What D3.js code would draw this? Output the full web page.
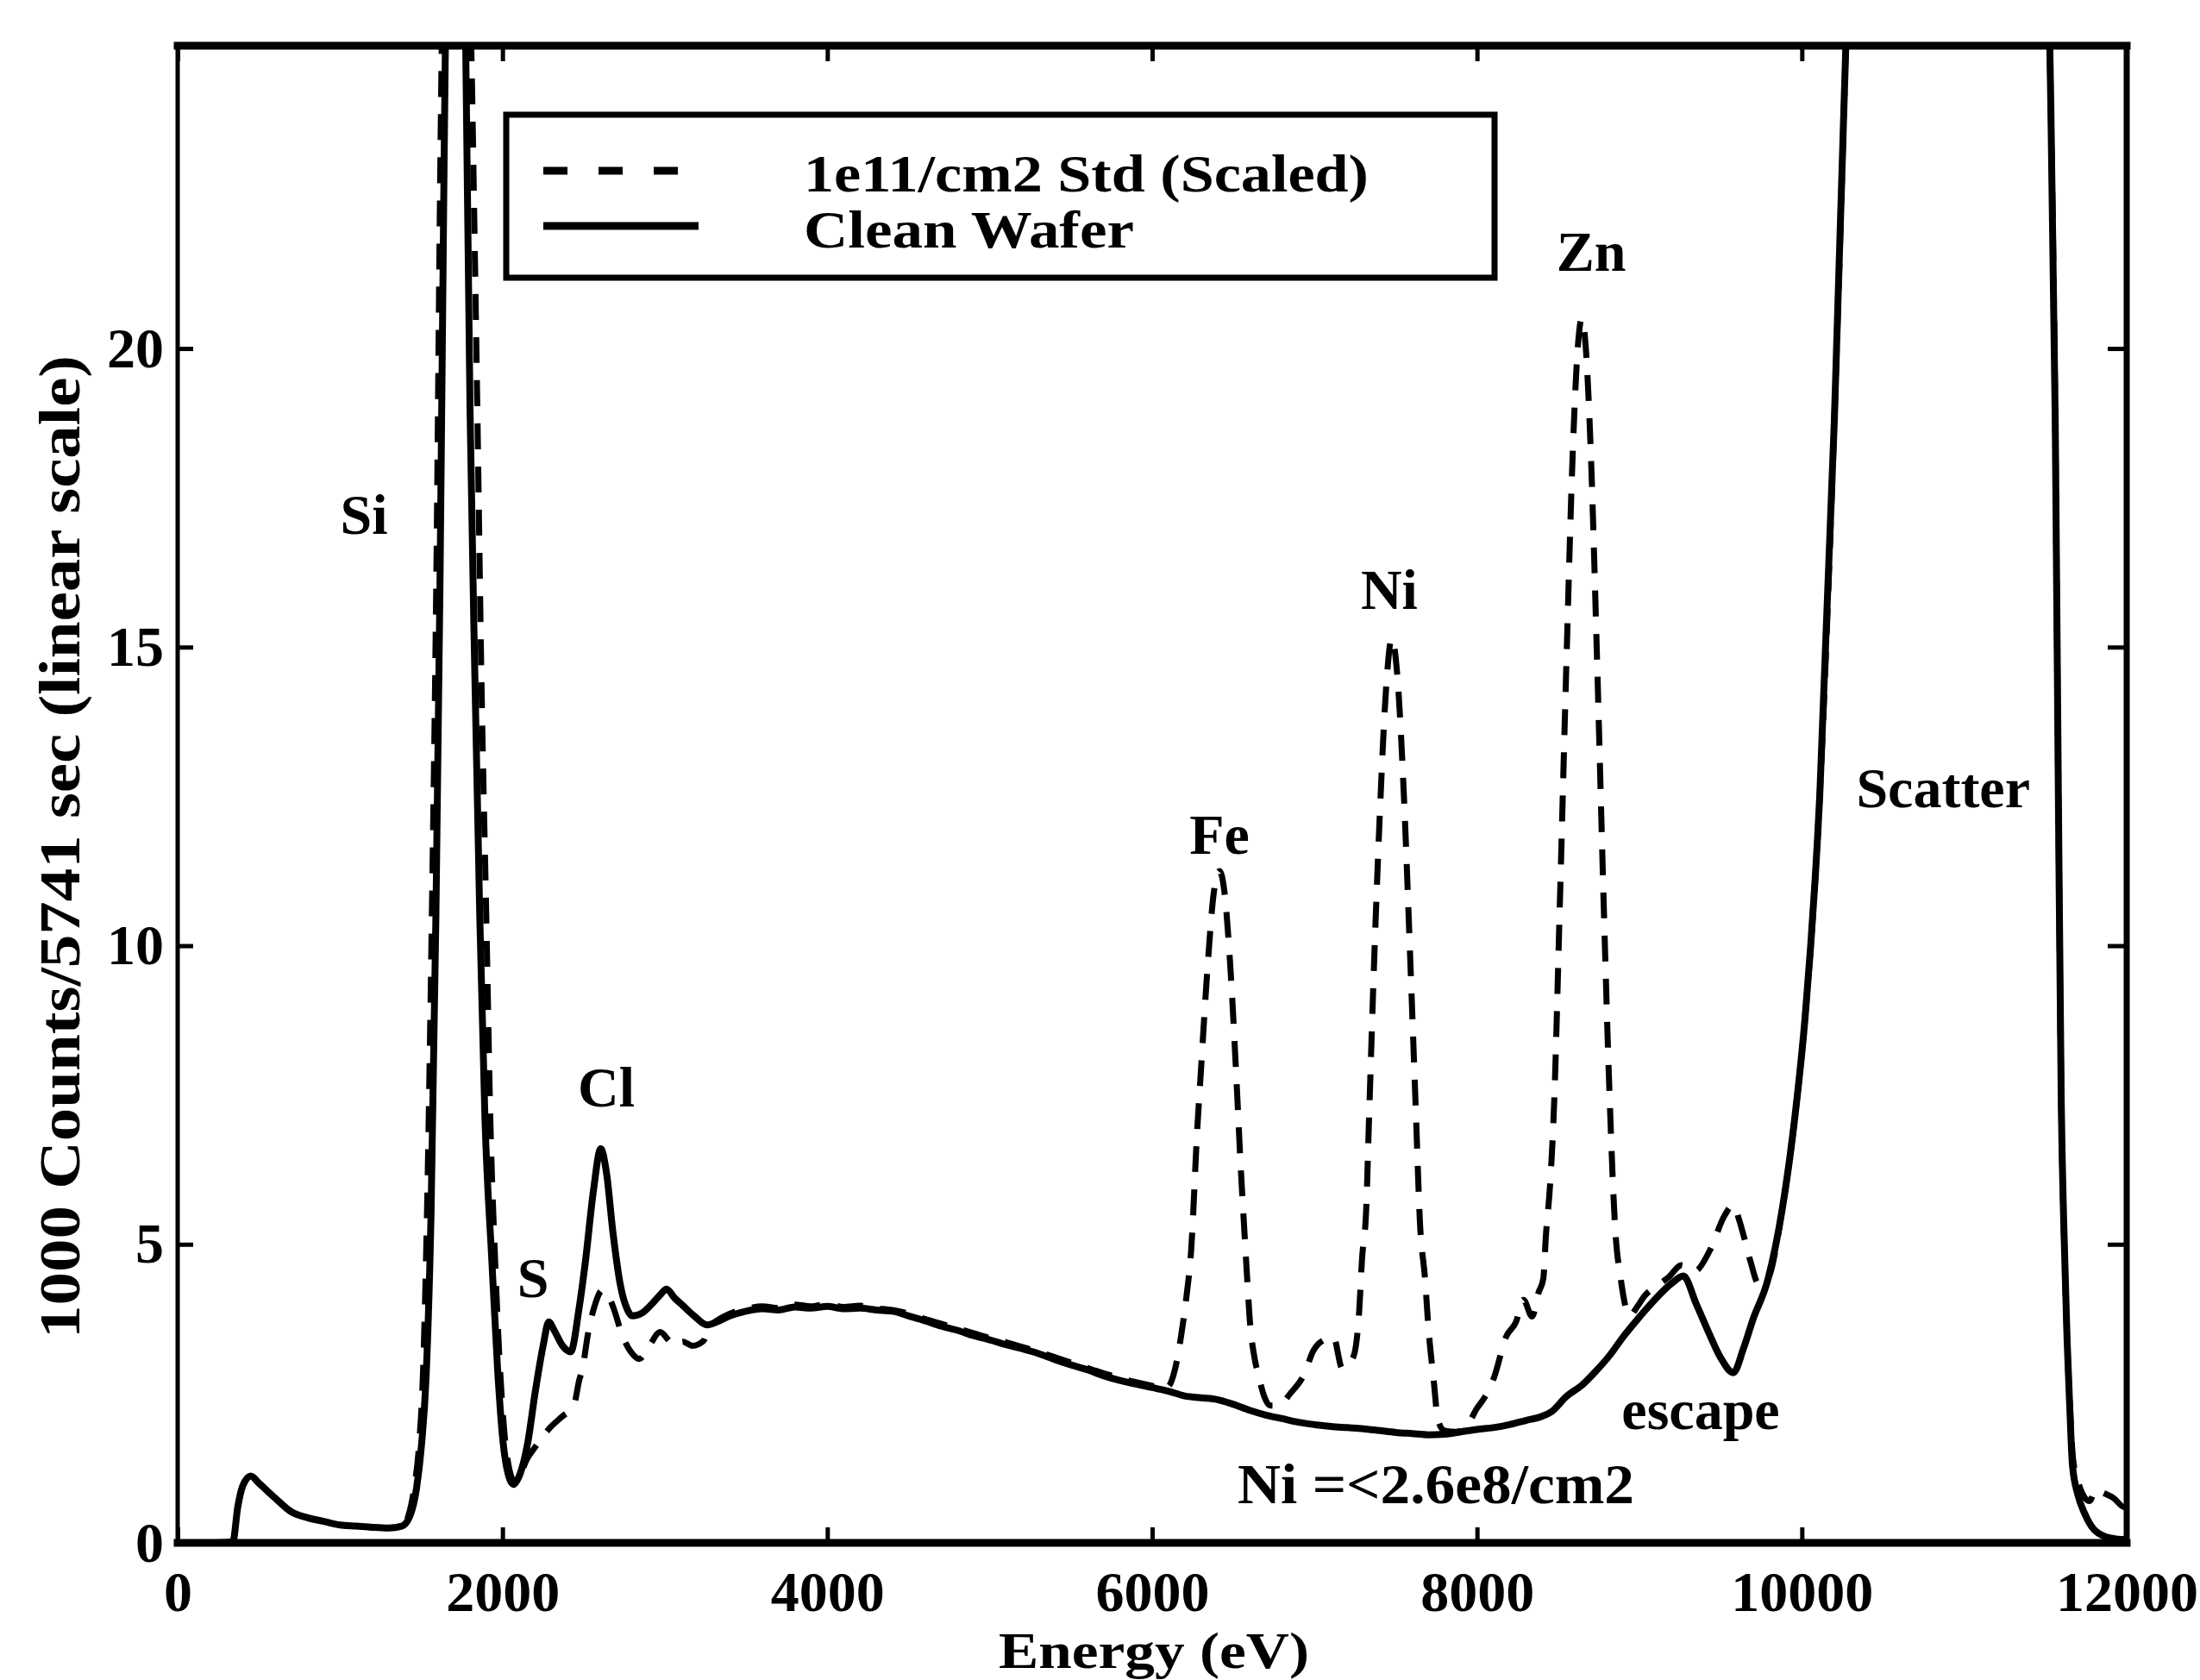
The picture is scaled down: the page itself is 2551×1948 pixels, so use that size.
<!DOCTYPE html>
<html lang="en">
<head>
<meta charset="utf-8">
<title>Clean wafer vs standard</title>
<style>
    body {
        margin: 0;
        background: #fff;
    }

    svg {
        display: block;
        background-color: #fff;
    }

    text {
        font-family: "Liberation Serif", "Times New Roman", serif;
        font-weight: bold;
        fill: #000;
    }
</style>
</head>
<body>

<svg width="2551" height="1948"></svg>

<script src="https://d3js.org/d3.v7.min.js"></script>
<script>

    // ---------- data (energy in eV, 1000 counts) ----------
    const xTicks = [0, 2000, 4000, 6000, 8000, 10000, 12000];
    const yTicks = [0, 5, 10, 15, 20];
    const seriesNames = ["1e11/cm2 Std (Scaled)", "Clean Wafer"];

    const cleanWafer = [
        [0, 0], [200, 0], [340, 0.02], [370, 0.6], [400, 0.95], [450, 1.12], [500, 1.0], [600, 0.75],
        [700, 0.52], [800, 0.42], [900, 0.36], [1000, 0.3], [1100, 0.28], [1200, 0.26], [1300, 0.25],
        [1380, 0.28], [1430, 0.45], [1470, 0.9], [1500, 1.6], [1530, 2.8], [1560, 5.5], [1590, 10.5],
        [1615, 16], [1640, 23], [1660, 28], [1700, 36], [1740, 36], [1765, 27], [1800, 19], [1830, 14.5],
        [1860, 10.5], [1892, 7.1], [1935, 4.7], [1970, 2.9], [2003, 1.7], [2035, 1.15], [2067, 0.98],
        [2100, 1.1], [2157, 1.7], [2200, 2.5], [2250, 3.3], [2285, 3.7], [2320, 3.55], [2370, 3.3],
        [2420, 3.2], [2470, 3.9], [2510, 4.7], [2560, 5.9], [2605, 6.6], [2640, 6.2], [2680, 5.2],
        [2727, 4.3], [2770, 3.9], [2800, 3.8], [2860, 3.85], [2920, 4.0], [2970, 4.15], [3010, 4.25],
        [3060, 4.1], [3120, 3.95], [3180, 3.8], [3260, 3.65], [3320, 3.7], [3400, 3.8], [3500, 3.88],
        [3600, 3.92], [3700, 3.9], [3800, 3.95], [3900, 3.93], [4000, 3.96], [4100, 3.92], [4200, 3.93],
        [4300, 3.9], [4400, 3.88], [4500, 3.8], [4600, 3.72], [4700, 3.63], [4800, 3.56], [4900, 3.47],
        [5000, 3.4], [5100, 3.32], [5200, 3.25], [5300, 3.17], [5400, 3.07], [5500, 2.98], [5600, 2.9],
        [5700, 2.8], [5800, 2.72], [5900, 2.66], [6000, 2.6], [6100, 2.54], [6200, 2.46], [6300, 2.43],
        [6400, 2.4], [6500, 2.32], [6600, 2.22], [6700, 2.14], [6800, 2.08], [6900, 2.02], [7000, 1.98],
        [7100, 1.95], [7200, 1.93], [7300, 1.91], [7400, 1.88], [7500, 1.85], [7600, 1.83], [7700, 1.81],
        [7800, 1.82], [7900, 1.86], [8000, 1.9], [8100, 1.93], [8200, 1.98], [8300, 2.05], [8400, 2.12],
        [8460, 2.2], [8550, 2.45], [8650, 2.65], [8730, 2.87], [8820, 3.15], [8900, 3.45], [8990, 3.75],
        [9080, 4.03], [9200, 4.35], [9270, 4.47], [9350, 4.0], [9430, 3.5], [9500, 3.1], [9578, 2.85],
        [9640, 3.25], [9700, 3.75], [9790, 4.4], [9880, 5.6], [9960, 7.2], [10020, 8.8], [10110, 12.5],
        [10200, 18.8], [10270, 25], [10330, 31], [10450, 40], [11400, 40], [11480, 31], [11527, 25],
        [11560, 18.8], [11580, 12.3], [11597, 7.4], [11613, 5.3], [11633, 3.4], [11650, 2.24],
        [11666, 1.3], [11700, 0.8], [11740, 0.5], [11800, 0.22], [11900, 0.08], [12000, 0.05]
    ];

    const stdScaled = [
        [0, 0], [200, 0], [340, 0.02], [370, 0.6], [400, 0.95], [450, 1.12], [500, 1.0], [600, 0.75],
        [700, 0.52], [800, 0.42], [900, 0.36], [1000, 0.3], [1100, 0.28], [1200, 0.26], [1300, 0.25],
        [1380, 0.28], [1420, 0.45], [1455, 0.9], [1485, 1.6], [1510, 2.8], [1535, 5.5], [1565, 10.5],
        [1592, 16], [1617, 23], [1640, 28], [1700, 38], [1760, 38], [1790, 28], [1815, 24], [1845, 19],
        [1870, 14.5], [1900, 10.5], [1925, 7.1], [1955, 4.7], [1985, 2.9], [2015, 1.75], [2045, 1.2],
        [2075, 1.02], [2110, 1.15], [2150, 1.4], [2200, 1.6], [2243, 1.76], [2300, 1.95], [2365, 2.11],
        [2440, 2.31], [2472, 2.72], [2493, 2.92], [2525, 3.48], [2565, 3.95], [2615, 4.23], [2650, 4.15],
        [2684, 3.93], [2737, 3.48], [2790, 3.2], [2843, 3.08], [2900, 3.28], [2971, 3.53], [3020, 3.4],
        [3056, 3.3], [3110, 3.37], [3170, 3.3], [3237, 3.38], [3270, 3.6], [3320, 3.72], [3400, 3.84],
        [3500, 3.92], [3600, 3.96], [3700, 3.93], [3800, 3.99], [3900, 3.96], [4000, 4.0], [4100, 3.95],
        [4200, 3.97], [4300, 3.93], [4400, 3.9], [4500, 3.84], [4600, 3.75], [4700, 3.67], [4800, 3.59],
        [4900, 3.51], [5000, 3.43], [5100, 3.36], [5200, 3.28], [5300, 3.2], [5400, 3.11], [5500, 3.02],
        [5600, 2.93], [5700, 2.84], [5800, 2.76], [5900, 2.69], [6000, 2.63], [6060, 2.58], [6100, 2.62],
        [6140, 2.9], [6180, 3.5], [6210, 4.1], [6240, 4.9], [6277, 6.9], [6300, 7.9], [6340, 9.6],
        [6380, 10.9], [6415, 11.25], [6445, 10.9], [6480, 9.7], [6520, 7.7], [6545, 6.3], [6566, 5.3],
        [6584, 4.47], [6602, 3.7], [6630, 3.1], [6655, 2.8], [6690, 2.45], [6725, 2.3], [6780, 2.3],
        [6850, 2.5], [6937, 2.83], [6991, 3.21], [7064, 3.41], [7116, 3.45], [7170, 2.92], [7239, 3.12],
        [7275, 3.9], [7292, 4.75], [7318, 5.6], [7334, 7.0], [7370, 10.0], [7400, 12.1], [7440, 14.3],
        [7475, 15.15], [7510, 14.5], [7550, 12.5], [7590, 9.7], [7625, 7.1], [7648, 5.4], [7680, 4.42],
        [7701, 3.6], [7733, 2.73], [7760, 2.05], [7800, 1.88], [7870, 1.86], [7940, 1.97], [7999, 2.25],
        [8050, 2.45], [8105, 2.77], [8179, 3.45], [8240, 3.7], [8286, 4.07], [8339, 3.79], [8380, 4.2],
        [8408, 4.42], [8424, 5.14], [8450, 6.0], [8474, 7.3], [8510, 10.7], [8550, 14.7], [8590, 18.3],
        [8620, 20.0], [8645, 20.5], [8670, 20.0], [8700, 18.3], [8740, 14.7], [8780, 10.7], [8816, 7.5],
        [8850, 5.3], [8886, 4.4], [8940, 3.8], [8985, 3.95], [9030, 4.13], [9115, 4.32], [9180, 4.45],
        [9259, 4.65], [9340, 4.55], [9434, 4.9], [9524, 5.48], [9578, 5.66], [9615, 5.4], [9647, 5.09],
        [9684, 4.71], [9737, 4.32], [9790, 4.42], [9880, 5.6], [9960, 7.2], [10020, 8.8], [10110, 12.5],
        [10200, 18.8], [10270, 25], [10330, 31], [10450, 40], [11400, 40], [11480, 31], [11527, 25],
        [11560, 18.8], [11580, 12.3], [11597, 7.4], [11613, 5.3], [11633, 3.4], [11650, 2.3],
        [11670, 1.4], [11703, 1.0], [11772, 0.7], [11810, 0.9], [11847, 0.85], [11920, 0.75],
        [11985, 0.6], [12000, 0.6]
    ];

    // peak annotations, placed in data units (eV, 1000 counts)
    const peakLabels = ["Si", "Cl", "S", "Fe", "Ni", "Zn", "Scatter", "escape", "Ni =<2.6e8/cm2"];
    const labelEnergy = [1147, 2639, 2188, 6414, 7460, 8703, 10870, 9377, 7747];
    const labelCounts = [16.9, 7.31, 4.12, 11.54, 15.64, 21.3, 12.32, 1.91, 0.66];

    // ---------- layout ----------
    const plot = {left: 206, right: 2466, top: 53, bottom: 1789};
    const fontSize = 66;

    const svg = d3.select("svg");

    const x = d3.scaleLinear().domain([0, 12000]).range([plot.left, plot.right]);
    const y = d3.scaleLinear().domain([0, 25.07]).range([plot.bottom, plot.top]);

    // clip so the big peaks run off the top like in the original
    svg.append("defs").append("clipPath").attr("id", "plotClip")
        .append("rect")
        .attr("x", plot.left)
        .attr("y", plot.top)
        .attr("width", plot.right - plot.left)
        .attr("height", plot.bottom - plot.top + 4);

    // ---------- axes (ticks point inward on all four sides) ----------
    function styleAxis(g) {
        g.select(".domain").remove();
        g.attr("font-family", null).attr("font-size", fontSize);
        g.selectAll("line").attr("stroke", "#000").attr("stroke-width", 5);
        g.selectAll("text").attr("fill", "#000");
    }

    svg.append("g")
        .attr("transform", `translate(0,${plot.bottom})`)
        .call(d3.axisBottom(x).tickValues(xTicks).tickSize(-18).tickSizeOuter(0).tickPadding(32)
            .tickFormat(d3.format("d")))
        .call(styleAxis);

    svg.append("g")
        .attr("transform", `translate(${plot.left},0)`)
        .call(d3.axisLeft(y).tickValues(yTicks).tickSize(-18).tickSizeOuter(0).tickPadding(16))
        .call(styleAxis);

    svg.append("g")
        .attr("transform", `translate(0,${plot.top})`)
        .call(d3.axisTop(x).tickValues(xTicks).tickSize(-18).tickSizeOuter(0).tickFormat(""))
        .call(styleAxis);

    svg.append("g")
        .attr("transform", `translate(${plot.right},0)`)
        .call(d3.axisRight(y).tickValues(yTicks).tickSize(-22).tickSizeOuter(0).tickFormat(""))
        .call(styleAxis);

    // frame
    const frame = svg.append("g").attr("stroke", "#000").attr("stroke-linecap", "square");
    frame.append("line").attr("x1", plot.left).attr("x2", plot.right)
        .attr("y1", plot.top).attr("y2", plot.top).attr("stroke-width", 9);
    frame.append("line").attr("x1", plot.left).attr("x2", plot.right)
        .attr("y1", plot.bottom).attr("y2", plot.bottom).attr("stroke-width", 9);
    frame.append("line").attr("x1", plot.left).attr("x2", plot.left)
        .attr("y1", plot.top).attr("y2", plot.bottom).attr("stroke-width", 5);
    frame.append("line").attr("x1", plot.right).attr("x2", plot.right)
        .attr("y1", plot.top).attr("y2", plot.bottom).attr("stroke-width", 7);

    // ---------- spectra ----------
    const line = d3.line()
        .x(d => x(d[0]))
        .y(d => y(d[1]))
        .curve(d3.curveMonotoneX);

    const curves = svg.append("g").attr("clip-path", "url(#plotClip)");

    curves.append("path")
        .datum(cleanWafer)
        .attr("d", line)
        .attr("fill", "none")
        .attr("stroke", "#000")
        .attr("stroke-width", 8)
        .attr("stroke-linejoin", "round");

    curves.append("path")
        .datum(stdScaled)
        .attr("d", line)
        .attr("fill", "none")
        .attr("stroke", "#000")
        .attr("stroke-width", 7)
        .attr("stroke-dasharray", "30,20");

    // ---------- annotations ----------
    svg.append("g")
        .selectAll("text")
        .data(peakLabels)
        .join("text")
        .attr("x", (d, i) => x(labelEnergy[i]))
        .attr("y", (d, i) => y(labelCounts[i]))
        .attr("text-anchor", "middle")
        .attr("font-size", fontSize)
        .attr("textLength", d => d.length > 10 ? 460 : null)
        .attr("lengthAdjust", "spacingAndGlyphs")
        .text(d => d);

    // ---------- legend ----------
    const legend = svg.append("g");
    legend.append("rect")
        .attr("x", 587).attr("y", 133)
        .attr("width", 1146).attr("height", 189)
        .attr("fill", "#fff")
        .attr("stroke", "#000")
        .attr("stroke-width", 7);

    legend.append("line")
        .attr("x1", 630).attr("x2", 790).attr("y1", 198).attr("y2", 198)
        .attr("stroke", "#000").attr("stroke-width", 9).attr("stroke-dasharray", "28,36");
    legend.append("line")
        .attr("x1", 630).attr("x2", 810).attr("y1", 262).attr("y2", 262)
        .attr("stroke", "#000").attr("stroke-width", 9);

    legend.append("text").attr("x", 932).attr("y", 222)
        .attr("font-size", 62)
        .attr("textLength", 655).attr("lengthAdjust", "spacingAndGlyphs")
        .text(seriesNames[0]);
    legend.append("text").attr("x", 932).attr("y", 287)
        .attr("font-size", 62)
        .attr("textLength", 383).attr("lengthAdjust", "spacingAndGlyphs")
        .text(seriesNames[1]);

    // ---------- axis titles ----------
    svg.append("text")
        .attr("x", 1338).attr("y", 1934)
        .attr("text-anchor", "middle")
        .attr("font-size", 60)
        .attr("textLength", 360).attr("lengthAdjust", "spacingAndGlyphs")
        .text("Energy (eV)");

    svg.append("text")
        .attr("transform", "translate(92,982) rotate(-90)")
        .attr("text-anchor", "middle")
        .attr("font-size", 68)
        .attr("textLength", 1140).attr("lengthAdjust", "spacingAndGlyphs")
        .text("1000 Counts/5741 sec (linear scale)");

</script>

</body>
</html>
